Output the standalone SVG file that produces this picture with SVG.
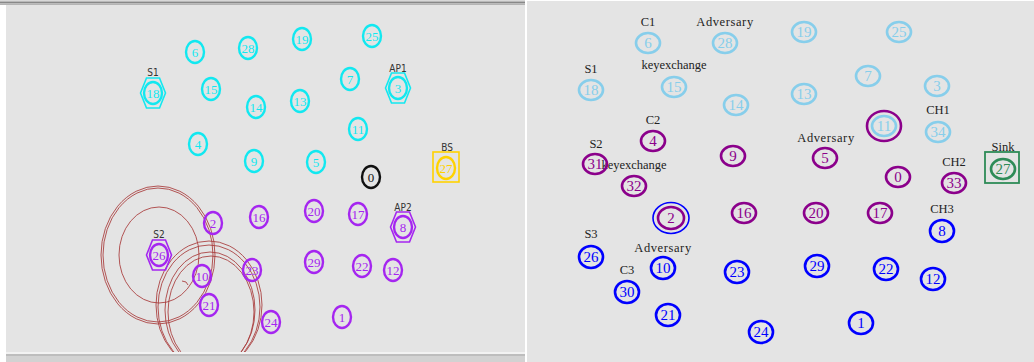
<svg xmlns="http://www.w3.org/2000/svg" width="1034" height="362" viewBox="0 0 1034 362">
<defs>
<style>
.bg{fill:#e4e4e4}
.ln ellipse{fill:none;stroke-width:2.4}
.ln text{font-family:"Liberation Serif",serif;font-size:13px;text-anchor:middle}
.cy ellipse,.cy use,.cy rect{stroke:#12e8f0;fill:none}
.cy text{fill:#12e8f0}
.pu ellipse,.pu use{stroke:#a526f0;fill:none}
.pu text{fill:#a526f0}
.bk ellipse{stroke:#111}
.bk text{fill:#111}
.ye ellipse,.ye rect{stroke:#ffd200;fill:none}
.ye text{fill:#ffd200}
.hex{stroke-width:1.6}
.llab{font-family:"DejaVu Sans Condensed","DejaVu Sans",sans-serif;font-size:10px;fill:#333;text-anchor:middle}
.rng{fill:none;stroke:#a83a3a;stroke-width:1;opacity:0.85}
.rn ellipse{fill:none;stroke-width:2.6}
.rn text{font-family:"Liberation Serif",serif;font-size:15px;text-anchor:middle}
.sb ellipse{stroke:#87ceeb}
.sb text{fill:#87ceeb}
.dm ellipse{stroke:#8b008b}
.dm text{fill:#8b008b}
.bl ellipse{stroke:#0000ff}
.bl text{fill:#0000ff}
.gr ellipse,.gr rect{stroke:#2e8b57;fill:none}
.gr text{fill:#2e8b57}
.rlab{font-family:"Liberation Serif",serif;font-size:12.5px;fill:#222;text-anchor:middle}
</style>
<polygon id="hexshape" points="-12.5,0 -6.5,-15 6.5,-15 12.5,0 6.5,15 -6.5,15"/>
<clipPath id="lclip"><rect x="6" y="4" width="519" height="348"/></clipPath>
</defs>
<rect width="1034" height="362" fill="#ffffff"/>
<!-- left panel -->
<rect class="bg" x="6" y="4" width="519" height="348"/>
<rect x="0" y="0" width="525" height="1.5" fill="#d8d8d8"/>
<rect x="0" y="1.5" width="525" height="2" fill="#888888"/>
<rect x="0" y="3.5" width="525" height="1.5" fill="#b4b4b4"/>
<rect x="6" y="352" width="519" height="2" fill="#f2f2f2"/>
<rect x="6" y="354" width="519" height="2" fill="#bdbdbd"/>
<rect x="6" y="356" width="519" height="6" fill="#d2d2d2"/>
<!-- right panel -->
<rect class="bg" x="527" y="1" width="507" height="361"/>

<g id="ranges" clip-path="url(#lclip)">
<ellipse class="rng" cx="158" cy="255" rx="57" ry="69"/>
<ellipse class="rng" cx="158" cy="255" rx="55" ry="67"/>
<ellipse class="rng" cx="159" cy="255" rx="40" ry="48"/>
<ellipse class="rng" cx="209" cy="305" rx="53" ry="64"/>
<ellipse class="rng" cx="209" cy="307" rx="51" ry="62"/>
<ellipse class="rng" cx="210" cy="310" rx="45" ry="58"/>
<ellipse class="rng" cx="211" cy="312" rx="43" ry="56"/>
<path class="rng" d="M182,281 L186,282 L188,285"/>
</g>

<g id="connectors"></g>

<!-- left labels -->
<g id="left-labels">
<text class="llab" x="153" y="76">S1</text>
<text class="llab" x="398" y="72">AP1</text>
<text class="llab" x="447" y="151">BS</text>
<text class="llab" x="403" y="211">AP2</text>
<text class="llab" x="159" y="238">S2</text>
</g>

<!-- left nodes -->
<g class="ln cy">
<g id="L6" transform="translate(195,52)"><ellipse rx="9" ry="11"/><text y="4.5">6</text></g>
<g id="L28" transform="translate(248,48)"><ellipse rx="9" ry="11"/><text y="4.5">28</text></g>
<g id="L19" transform="translate(302,39)"><ellipse rx="9" ry="11"/><text y="4.5">19</text></g>
<g id="L25" transform="translate(372,36)"><ellipse rx="9" ry="11"/><text y="4.5">25</text></g>
<g id="L18" transform="translate(153,93)"><use href="#hexshape" class="hex"/><ellipse rx="9" ry="11"/><text y="4.5">18</text></g>
<g id="L15" transform="translate(211,89)"><ellipse rx="9" ry="11"/><text y="4.5">15</text></g>
<g id="L14" transform="translate(256,107)"><ellipse rx="9" ry="11"/><text y="4.5">14</text></g>
<g id="L13" transform="translate(300,101)"><ellipse rx="9" ry="11"/><text y="4.5">13</text></g>
<g id="L7" transform="translate(350,79)"><ellipse rx="9" ry="11"/><text y="4.5">7</text></g>
<g id="L3" transform="translate(398,88)"><use href="#hexshape" class="hex"/><ellipse rx="9" ry="11"/><text y="4.5">3</text></g>
<g id="L11" transform="translate(358,129)"><ellipse rx="9" ry="11"/><text y="4.5">11</text></g>
<g id="L4" transform="translate(198,144)"><ellipse rx="9" ry="11"/><text y="4.5">4</text></g>
<g id="L9" transform="translate(254,161)"><ellipse rx="9" ry="11"/><text y="4.5">9</text></g>
<g id="L5" transform="translate(316,162)"><ellipse rx="9" ry="11"/><text y="4.5">5</text></g>
</g>
<g class="ln bk">
<g id="L0" transform="translate(371,177)"><ellipse rx="9" ry="11" fill="none"/><text y="4.5">0</text></g>
</g>
<g class="ln ye">
<g id="L27" transform="translate(446,168)"><rect x="-13" y="-16" width="26" height="30" stroke-width="1.6"/><ellipse rx="9" ry="11"/><text y="4.5">27</text></g>
</g>
<g class="ln pu">
<g id="L2" transform="translate(213,223)"><ellipse rx="9" ry="11"/><text y="4.5">2</text></g>
<g id="L16" transform="translate(259,217)"><ellipse rx="9" ry="11"/><text y="4.5">16</text></g>
<g id="L20" transform="translate(314,211)"><ellipse rx="9" ry="11"/><text y="4.5">20</text></g>
<g id="L17" transform="translate(358,214)"><ellipse rx="9" ry="11"/><text y="4.5">17</text></g>
<g id="L8" transform="translate(403,227)"><use href="#hexshape" class="hex"/><ellipse rx="9" ry="11"/><text y="4.5">8</text></g>
<g id="L26" transform="translate(159,255)"><use href="#hexshape" class="hex"/><ellipse rx="9" ry="11"/><text y="4.5">26</text></g>
<g id="L10" transform="translate(202,276)"><ellipse rx="9" ry="11"/><text y="4.5">10</text></g>
<g id="L23" transform="translate(252,270)"><ellipse rx="9" ry="11"/><text y="4.5">23</text></g>
<g id="L29" transform="translate(314,262)"><ellipse rx="9" ry="11"/><text y="4.5">29</text></g>
<g id="L22" transform="translate(362,266)"><ellipse rx="9" ry="11"/><text y="4.5">22</text></g>
<g id="L12" transform="translate(393,270)"><ellipse rx="9" ry="11"/><text y="4.5">12</text></g>
<g id="L21" transform="translate(209,305)"><ellipse rx="9" ry="11"/><text y="4.5">21</text></g>
<g id="L24" transform="translate(271,322)"><ellipse rx="9" ry="11"/><text y="4.5">24</text></g>
<g id="L1" transform="translate(342,317)"><ellipse rx="9" ry="11"/><text y="4.5">1</text></g>
</g>

<!-- right labels -->
<g id="right-labels">
<text class="rlab" x="648" y="26">C1</text>
<text class="rlab" x="725" y="26" letter-spacing="0.6">Adversary</text>
<text class="rlab" x="591" y="73">S1</text>
<text class="rlab" x="674" y="69">keyexchange</text>
<text class="rlab" x="653" y="124">C2</text>
<text class="rlab" x="596" y="148">S2</text>
<text class="rlab" x="634" y="169">keyexchange</text>
<text class="rlab" x="826" y="142" letter-spacing="0.6">Adversary</text>
<text class="rlab" x="938" y="114">CH1</text>
<text class="rlab" x="1003" y="151">Sink</text>
<text class="rlab" x="954" y="166">CH2</text>
<text class="rlab" x="942" y="213">CH3</text>
<text class="rlab" x="591" y="238">S3</text>
<text class="rlab" x="663" y="252" letter-spacing="0.6">Adversary</text>
<text class="rlab" x="627" y="274">C3</text>
</g>

<!-- right nodes -->
<g class="rn sb">
<g id="R6" transform="translate(648,43)"><ellipse rx="12" ry="10"/><text y="5">6</text></g>
<g id="R28" transform="translate(725,43)"><ellipse rx="12" ry="10"/><text y="5">28</text></g>
<g id="R19" transform="translate(804,32)"><ellipse rx="12" ry="10"/><text y="5">19</text></g>
<g id="R25" transform="translate(899,32)"><ellipse rx="12" ry="10"/><text y="5">25</text></g>
<g id="R18" transform="translate(591,90)"><ellipse rx="12" ry="10"/><text y="5">18</text></g>
<g id="R15" transform="translate(674,87)"><ellipse rx="12" ry="10"/><text y="5">15</text></g>
<g id="R14" transform="translate(736,105)"><ellipse rx="12" ry="10"/><text y="5">14</text></g>
<g id="R7" transform="translate(868,76)"><ellipse rx="12" ry="10"/><text y="5">7</text></g>
<g id="R13" transform="translate(804,94)"><ellipse rx="12" ry="10"/><text y="5">13</text></g>
<g id="R3" transform="translate(937,86)"><ellipse rx="12" ry="10"/><text y="5">3</text></g>
<g id="R34" transform="translate(938,132)"><ellipse rx="12" ry="10"/><text y="5">34</text></g>
<g id="R11" transform="translate(884,126)"><ellipse rx="12" ry="10"/><ellipse rx="17" ry="15" style="stroke:#8b008b"/><text y="5">11</text></g>
</g>
<g class="rn dm">
<g id="R4" transform="translate(653,141)"><ellipse rx="12" ry="10"/><text y="5">4</text></g>
<g id="R31" transform="translate(595,164)"><ellipse rx="12" ry="10"/><text y="5">31</text></g>
<g id="R9" transform="translate(733,156)"><ellipse rx="12" ry="10"/><text y="5">9</text></g>
<g id="R32" transform="translate(634,186)"><ellipse rx="12" ry="10"/><text y="5">32</text></g>
<g id="R5" transform="translate(825,158)"><ellipse rx="12" ry="10"/><text y="5">5</text></g>
<g id="R0" transform="translate(898,177)"><ellipse rx="12" ry="10"/><text y="5">0</text></g>
<g id="R33" transform="translate(954,183)"><ellipse rx="12" ry="10"/><text y="5">33</text></g>
<g id="R2" transform="translate(671,218)"><ellipse rx="13" ry="11"/><ellipse rx="18" ry="15.5" style="stroke:#0000ff;stroke-width:1.6"/><text y="5">2</text></g>
<g id="R16" transform="translate(744,213)"><ellipse rx="12" ry="10"/><text y="5">16</text></g>
<g id="R20" transform="translate(816,213)"><ellipse rx="12" ry="10"/><text y="5">20</text></g>
<g id="R17" transform="translate(880,213)"><ellipse rx="12" ry="10"/><text y="5">17</text></g>
</g>
<g class="rn gr">
<g id="R27" transform="translate(1003,169)"><rect x="-18" y="-17" width="34" height="31" stroke-width="1.8"/><ellipse rx="12" ry="10"/><text y="5">27</text></g>
</g>
<g class="rn bl">
<g id="R8" transform="translate(942,231)"><ellipse rx="12" ry="11"/><text y="5">8</text></g>
<g id="R26" transform="translate(591,257)"><ellipse rx="12" ry="11"/><text y="5">26</text></g>
<g id="R10" transform="translate(663,268)"><ellipse rx="12" ry="11"/><text y="5">10</text></g>
<g id="R30" transform="translate(627,292)"><ellipse rx="12" ry="11"/><text y="5">30</text></g>
<g id="R23" transform="translate(737,272)"><ellipse rx="12" ry="11"/><text y="5">23</text></g>
<g id="R21" transform="translate(668,315)"><ellipse rx="12" ry="11"/><text y="5">21</text></g>
<g id="R24" transform="translate(761,332)"><ellipse rx="12" ry="11"/><text y="5">24</text></g>
<g id="R29" transform="translate(817,266)"><ellipse rx="12" ry="11"/><text y="5">29</text></g>
<g id="R22" transform="translate(886,269)"><ellipse rx="12" ry="11"/><text y="5">22</text></g>
<g id="R12" transform="translate(933,279)"><ellipse rx="12" ry="11"/><text y="5">12</text></g>
<g id="R1" transform="translate(861,323)"><ellipse rx="12" ry="11"/><text y="5">1</text></g>
</g>
</svg>
